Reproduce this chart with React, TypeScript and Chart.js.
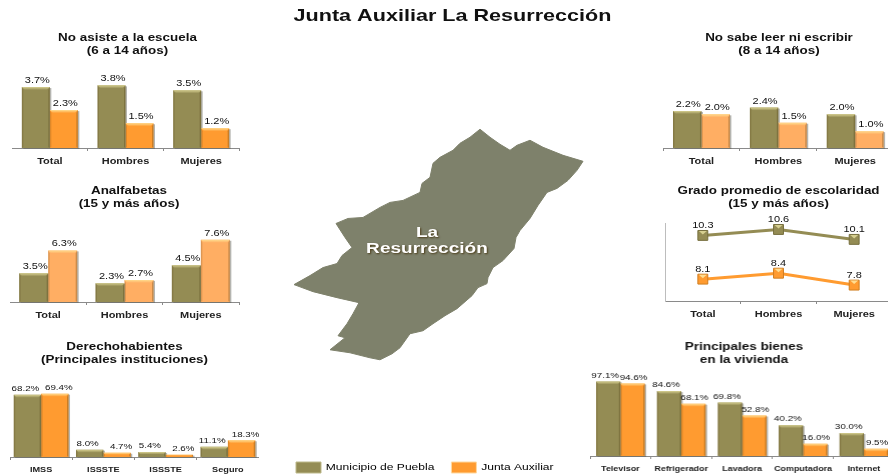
import React, { useEffect, useRef } from "react";
import { Chart, registerables } from "chart.js";

Chart.register(...registerables);

const OLIVE = "#948C54";
const ORANGE = "#FF9B30";
const ORANGE_SOFT = "#FFAE63";
const FONT = "'Liberation Sans', Arial, sans-serif";

const generalCategories = ["Total", "Hombres", "Mujeres"];
const noAsistePuebla = [3.7, 3.8, 3.5];
const noAsisteJunta = [2.3, 1.5, 1.2];
const analfabetasPuebla = [3.5, 2.3, 4.5];
const analfabetasJunta = [6.3, 2.7, 7.6];
const institutionCategories = ["IMSS", "ISSSTE", "ISSSTE", "Seguro"];
const derechoPuebla = [68.2, 8.0, 5.4, 11.1];
const derechoJunta = [69.4, 4.7, 2.6, 18.3];
const noSabePuebla = [2.2, 2.4, 2.0];
const noSabeJunta = [2.0, 1.5, 1.0];
const gradoPuebla = [10.3, 10.6, 10.1];
const gradoJunta = [8.1, 8.4, 7.8];
const bienesCategories = ["Televisor", "Refrigerador", "Lavadora", "Computadora", "Internet"];
const bienesPuebla = [97.1, 84.6, 69.8, 40.2, 30.0];
const bienesJunta = [94.6, 68.1, 52.8, 16.0, 9.5];

const seriesNames = ["Municipio de Puebla", "Junta Auxiliar"];

// Outline of the territory, in page pixels
const mapX = [480, 490, 500, 510, 517, 530, 543, 563, 583, 577, 568, 557, 547, 538, 530, 520, 516, 514, 503, 493, 488, 487, 478, 472, 457, 445, 433, 423, 410, 400, 392, 380, 370, 350, 330, 345, 338, 347, 353, 359, 337, 313, 294, 310, 323, 337, 342, 352, 345, 336, 348, 363, 380, 390, 403, 420, 422, 430, 433, 440, 453, 460, 470, 480];
const mapY = [129, 137, 144, 150, 145, 140, 147, 155, 161, 170, 180, 188, 192, 205, 218, 230, 237, 248, 260, 267, 277, 283, 287, 295, 308, 315, 323, 330, 333, 347, 353, 359, 357, 352, 349, 337, 335, 323, 313, 302, 297, 291, 284, 275, 267, 263, 255, 247, 237, 223, 218, 217, 207, 202, 200, 192, 183, 177, 163, 157, 150, 143, 137, 129];

type PanelCfg = {
  title: string[];
  titleCenter: number;
  titleY: number;
  left: number;
  right: number;
  axisY: number;
  unit: number;
  yMin: number;
  yMax: number;
  categories: string[];
  a: number[];
  b: number[];
  bColor: string;
  catPct: number;
  line?: boolean;
  labelSize: number;
  tickSize: number;
  labelShift: number[];
  suffix: string;
};

const panels: PanelCfg[] = [
  { title: ["No asiste a la escuela", "(6 a 14 años)"], titleCenter: 127, titleY: 37, left: 11.5, right: 238.5, axisY: 148, unit: 16.6, yMin: 0, yMax: 4.2, categories: generalCategories, a: noAsistePuebla, b: noAsisteJunta, bColor: ORANGE, catPct: 0.74, labelSize: 9, tickSize: 9, labelShift: [1.5, 1.5], suffix: "%" },
  { title: ["Analfabetas", "(15 y más años)"], titleCenter: 129, titleY: 190, left: 10, right: 239, axisY: 302, unit: 8.25, yMin: 0, yMax: 8.5, categories: generalCategories, a: analfabetasPuebla, b: analfabetasJunta, bColor: ORANGE_SOFT, catPct: 0.76, labelSize: 9, tickSize: 9, labelShift: [1.5, 1.5], suffix: "%" },
  { title: ["Derechohabientes", "(Principales instituciones)"], titleCenter: 124, titleY: 346, left: 9.5, right: 258.5, axisY: 456.7, unit: 0.915, yMin: 0, yMax: 78, categories: institutionCategories, a: derechoPuebla, b: derechoJunta, bColor: ORANGE, catPct: 0.88, labelSize: 8, tickSize: 7.5, labelShift: [-2, 4], suffix: "%" },
  { title: ["No sabe leer ni escribir", "(8 a 14 años)"], titleCenter: 779, titleY: 37, left: 663, right: 893.6, axisY: 148, unit: 17, yMin: 0, yMax: 3, categories: generalCategories, a: noSabePuebla, b: noSabeJunta, bColor: ORANGE_SOFT, catPct: 0.74, labelSize: 9, tickSize: 9, labelShift: [1, 1.5], suffix: "%" },
  { title: ["Grado promedio de escolaridad", "(15 y más años)"], titleCenter: 778.5, titleY: 190, left: 665, right: 892, axisY: 301, unit: 20, yMin: 7, yMax: 10.9, categories: generalCategories, a: gradoPuebla, b: gradoJunta, bColor: ORANGE, catPct: 1, line: true, labelSize: 9, tickSize: 9, labelShift: [0, 0], suffix: "" },
  { title: ["Principales bienes", "en la vivienda"], titleCenter: 744, titleY: 346, left: 590.3, right: 894, axisY: 456, unit: 0.772, yMin: 0, yMax: 108, categories: bienesCategories, a: bienesPuebla, b: bienesJunta, bColor: ORANGE, catPct: 0.8, labelSize: 8, tickSize: 7.3, labelShift: [-3, 1], suffix: "%" },
];

// The reference's lettering is Arial widened sideways: draw and measure all text with that stretch
const stretch = (sx: number) => ({
  id: "stretch",
  beforeInit(chart: any) {
    const ctx = chart.ctx;
    if (ctx.__stretched) return;
    ctx.__stretched = true;
    const fill = ctx.fillText.bind(ctx);
    const measure = ctx.measureText.bind(ctx);
    ctx.fillText = (t: string, x: number, y: number) => {
      ctx.save();
      ctx.translate(x, y);
      ctx.scale(sx, 1);
      fill(t, 0, 0);
      ctx.restore();
    };
    ctx.measureText = (t: string) => ({ width: measure(t).width * sx });
  },
});

function lighten(hex: string): string {
  return hex === OLIVE ? "#D6CF90" : "#FFDD90";
}

const bevel = {
  id: "bevel",
  beforeDatasetsDraw(chart: any) {
    const { ctx } = chart;
    chart.data.datasets.forEach((_: any, i: number) => {
      const meta = chart.getDatasetMeta(i);
      if (meta.type !== "bar") return;
      meta.data.forEach((el: any) => {
        ctx.save();
        ctx.fillStyle = "rgba(90,90,80,0.45)";
        ctx.fillRect(el.x - el.width / 2 + 1.5, el.y + 1, el.width, el.base - el.y);
        ctx.restore();
      });
    });
  },
  afterDatasetsDraw(chart: any) {
    const { ctx } = chart;
    chart.data.datasets.forEach((ds: any, i: number) => {
      const meta = chart.getDatasetMeta(i);
      if (meta.type !== "bar") return;
      meta.data.forEach((el: any) => {
        const l = el.x - el.width / 2;
        const r = el.x + el.width / 2;
        const h = el.base - el.y;
        const d = Math.min(3, h / 2);
        ctx.save();
        const g = ctx.createLinearGradient(0, el.y, 0, el.y + d);
        g.addColorStop(0, lighten(ds.backgroundColor));
        g.addColorStop(1, ds.backgroundColor);
        ctx.fillStyle = g;
        ctx.beginPath();
        ctx.moveTo(l, el.y);
        ctx.lineTo(r, el.y);
        ctx.lineTo(r - d, el.y + d);
        ctx.lineTo(l + d, el.y + d);
        ctx.closePath();
        ctx.fill();
        ctx.fillStyle = "rgba(70,50,10,0.28)";
        ctx.beginPath();
        ctx.moveTo(r, el.y);
        ctx.lineTo(r, el.base);
        ctx.lineTo(r - 1.5, el.base - 1);
        ctx.lineTo(r - 1.5, el.y + d);
        ctx.closePath();
        ctx.fill();
        ctx.fillStyle = "rgba(70,50,10,0.18)";
        ctx.beginPath();
        ctx.moveTo(l, el.y);
        ctx.lineTo(l, el.base);
        ctx.lineTo(l + 1.5, el.base - 1);
        ctx.lineTo(l + 1.5, el.y + d);
        ctx.closePath();
        ctx.fill();
        ctx.restore();
      });
    });
  },
};

const markerBevel = {
  id: "markerBevel",
  afterDatasetsDraw(chart: any) {
    const { ctx } = chart;
    chart.data.datasets.forEach((ds: any, i: number) => {
      const meta = chart.getDatasetMeta(i);
      if (meta.type !== "line") return;
      meta.data.forEach((el: any) => {
        ctx.save();
        ctx.fillStyle = ds.borderColor === OLIVE ? "#D6CF90" : "#FFDD90";
        ctx.beginPath();
        ctx.moveTo(el.x - 4, el.y - 4.5);
        ctx.lineTo(el.x + 4, el.y - 4.5);
        ctx.lineTo(el.x, el.y - 1);
        ctx.closePath();
        ctx.fill();
        ctx.restore();
      });
    });
  },
};

const valueLabels = (size: number, suffix: string, shift: number[]) => ({
  id: "valueLabels",
  afterDatasetsDraw(chart: any) {
    const { ctx } = chart;
    ctx.save();
    ctx.font = `${size}px ${FONT}`;
    ctx.fillStyle = "#111";
    ctx.textAlign = "center";
    ctx.textBaseline = "bottom";
    chart.data.datasets.forEach((ds: any, i: number) => {
      const meta = chart.getDatasetMeta(i);
      meta.data.forEach((el: any, j: number) => {
        const gap = meta.type === "line" ? 5.5 : 2;
        ctx.fillText(ds.data[j].toFixed(1) + suffix, el.x + shift[i], el.y - gap);
      });
    });
    ctx.restore();
  },
});

function Panel({ cfg }: { cfg: PanelCfg }) {
  const ref = useRef<HTMLCanvasElement>(null);
  const half = Math.max(cfg.titleCenter - cfg.left, cfg.right - cfg.titleCenter);
  const canvasLeft = cfg.titleCenter - half;
  const canvasWidth = half * 2;
  const lineH = 13;
  const canvasTop = cfg.titleY - lineH / 2;
  const xAxisH = 22;
  const canvasHeight = cfg.axisY + xAxisH - canvasTop;
  const chartTop = cfg.axisY - (cfg.yMax - cfg.yMin) * cfg.unit;
  const leftGap = cfg.left - canvasLeft;
  const rightGap = canvasLeft + canvasWidth - cfg.right;

  useEffect(() => {
    const line = !!cfg.line;
    const chart = new Chart(ref.current!, {
      type: line ? "line" : "bar",
      data: {
        labels: cfg.categories,
        datasets: [
          line
            ? { label: seriesNames[0], data: cfg.a, borderColor: OLIVE, backgroundColor: OLIVE, borderWidth: 3, pointStyle: "rect", pointRadius: 7, pointBorderColor: "#77703F", pointBorderWidth: 1, tension: 0 }
            : { label: seriesNames[0], data: cfg.a, backgroundColor: OLIVE, barPercentage: 1, categoryPercentage: cfg.catPct },
          line
            ? { label: seriesNames[1], data: cfg.b, borderColor: ORANGE, backgroundColor: ORANGE, borderWidth: 3, pointStyle: "rect", pointRadius: 7, pointBorderColor: "#D07E20", pointBorderWidth: 1, tension: 0 }
            : { label: seriesNames[1], data: cfg.b, backgroundColor: cfg.bColor, barPercentage: 1, categoryPercentage: cfg.catPct },
        ],
      } as any,
      options: {
        animation: false,
        responsive: false,
        devicePixelRatio: 1,
        layout: { padding: 0, autoPadding: false },
        plugins: {
          legend: { display: false },
          tooltip: { enabled: false },
          title: {
            display: true,
            text: cfg.title,
            color: "#111",
            font: { family: FONT, size: 11, weight: "bold", lineHeight: `${lineH}px` },
            padding: { top: 0, bottom: chartTop - canvasTop - lineH * 2 },
          },
        },
        scales: {
          x: {
            offset: true,
            grid: { display: true, offset: true, drawOnChartArea: false, drawTicks: true, tickLength: 3, color: "#8A8A8A" },
            border: { display: true, color: "#8A8A8A", width: 1 },
            ticks: { color: "#222", font: { family: FONT, size: cfg.tickSize, weight: "bold" }, padding: 5.5, autoSkip: false, maxRotation: 0 },
            afterFit(s: any) { s.height = xAxisH; },
          },
          y: {
            position: leftGap >= rightGap ? "left" : "right",
            min: cfg.yMin,
            max: cfg.yMax,
            display: true,
            grid: { display: false },
            border: { display: line, color: "#BDBDBD", width: 2 },
            ticks: { display: false },
            afterFit(s: any) { s.width = Math.max(leftGap, rightGap); },
          },
        },
      } as any,
      plugins: [stretch(1.22), bevel, markerBevel, valueLabels(cfg.labelSize, cfg.suffix, cfg.labelShift)],
    });
    return () => chart.destroy();
  }, []);

  return (
    <canvas
      ref={ref}
      width={canvasWidth}
      height={canvasHeight}
      style={{ position: "absolute", left: canvasLeft, top: canvasTop, width: canvasWidth, height: canvasHeight }}
    />
  );
}

const mapLabel = {
  id: "mapLabel",
  afterDatasetsDraw(chart: any) {
    const { ctx, scales } = chart;
    ctx.save();
    ctx.font = `bold 15px ${FONT}`;
    ctx.textAlign = "center";
    ctx.textBaseline = "middle";
    ctx.fillStyle = "#fff";
    ctx.shadowColor = "rgba(60,40,0,0.8)";
    ctx.shadowBlur = 2;
    ctx.shadowOffsetX = 1;
    ctx.shadowOffsetY = 1;
    ctx.fillText("La", scales.x.getPixelForValue(427), scales.y.getPixelForValue(232));
    ctx.fillText("Resurrección", scales.x.getPixelForValue(427), scales.y.getPixelForValue(248));
    ctx.restore();
  },
};

function CenterChart() {
  const ref = useRef<HTMLCanvasElement>(null);
  const left = 279;
  const right = 626;
  const canvasH = 484;
  useEffect(() => {
    const chart = new Chart(ref.current!, {
      type: "scatter",
      data: {
        datasets: [
          {
            label: "La Resurrección",
            data: mapX.map((x, i) => ({ x, y: mapY[i] })),
            showLine: true,
            fill: "shape",
            backgroundColor: "#7E816B",
            borderColor: "#7E816B",
            borderWidth: 1,
            pointRadius: 0,
            tension: 0,
          },
        ],
      } as any,
      options: {
        animation: false,
        responsive: false,
        devicePixelRatio: 1,
        layout: { padding: { top: 6, bottom: 1 }, autoPadding: false },
        plugins: {
          tooltip: { enabled: false },
          title: {
            display: true,
            text: "Junta Auxiliar La Resurrección",
            color: "#111",
            font: { family: FONT, size: 17, weight: "bold", lineHeight: "20px" },
            padding: 0,
          },
          legend: {
            display: true,
            position: "bottom",
            align: "start",
            onClick: null,
            labels: {
              boxWidth: 25,
              boxHeight: 11,
              padding: 17,
              color: "#222",
              font: { family: FONT, size: 9.5 },
              generateLabels: () => [
                { text: seriesNames[0], fillStyle: OLIVE, strokeStyle: "#BDB98A", lineWidth: 1, datasetIndex: 0 },
                { text: seriesNames[1], fillStyle: ORANGE, strokeStyle: "#FFD9A0", lineWidth: 1, datasetIndex: 0 },
              ],
            },
          },
        },
        scales: {
          x: { type: "linear", display: false, min: left, max: right },
          y: { type: "linear", display: false, reverse: true, min: 26, max: 444 },
        },
      } as any,
      plugins: [stretch(1.27), mapLabel],
    });
    return () => chart.destroy();
  }, []);
  return (
    <canvas
      ref={ref}
      width={right - left}
      height={canvasH}
      style={{ position: "absolute", left, top: 0, width: right - left, height: canvasH }}
    />
  );
}

export default function App() {
  return (
    <div style={{ position: "fixed", left: 0, top: 0, width: 888, height: 474, overflow: "hidden", background: "#fff" }}>
      <CenterChart />
      {panels.map((p) => (
        <Panel key={p.title[0]} cfg={p} />
      ))}
    </div>
  );
}
